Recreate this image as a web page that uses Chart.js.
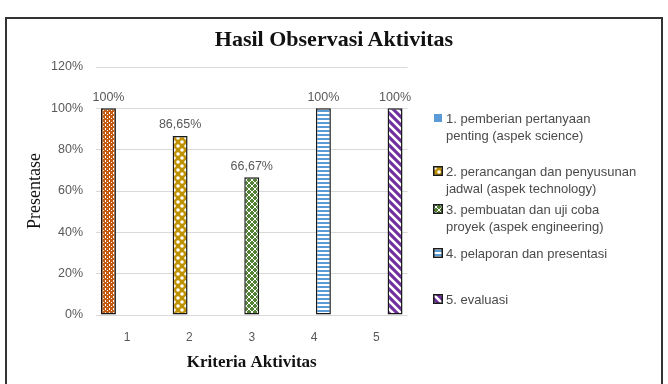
<!DOCTYPE html>
<html>
<head>
<meta charset="utf-8">
<script src="https://cdn.jsdelivr.net/npm/chart.js@4.4.1/dist/chart.umd.min.js"></script>
<style>
  body { margin: 0; background: #fff; }
  #wrap { position: relative; width: 668px; height: 384px; overflow: hidden; }
  #frame { position: absolute; left: 5px; top: 17px; width: 654px; height: 380px; border: 2px solid #333; }
  #title { position: absolute; left: 0; width: 668px; top: 26px; text-align: center;
    font: bold 22px "Liberation Serif", serif; color: #111; }
  #legend { position: absolute; left: 0; top: 0; }
  .item { position: absolute; left: 433px; font: 13px "Liberation Sans", sans-serif; color: #4a4a4a; line-height: 17px; }
  .item canvas { position: absolute; left: 0; top: 3px; }
  .item span { display: block; margin-left: 13px; white-space: nowrap; }
  #c { position: absolute; left: 0; top: 0; }
</style>
</head>
<body>
<div id="wrap">
  <div id="frame"></div>
  <canvas id="c" width="668" height="384"></canvas>
  <div id="title">Hasil Observasi Aktivitas</div>
  <div id="legend"></div>
</div>
<script>
'use strict';

const categories = ['1', '2', '3', '4', '5'];
const seriesNames = [
  ['1. pemberian pertanyaan', 'penting (aspek science)'],
  ['2. perancangan dan penyusunan', 'jadwal (aspek technology)'],
  ['3. pembuatan dan uji coba', 'proyek (aspek engineering)'],
  ['4. pelaporan dan presentasi'],
  ['5. evaluasi']
];
const values = [100, 86.65, 66.67, 100, 100];
const yTicks = [0, 20, 40, 60, 80, 100, 120];

const baseColors = ['#C55A11', '#BF9000', '#548235', '#5B9BD5', '#7030A0'];
const legendTops = [110, 163, 201, 245, 291];

const ctx = document.getElementById('c').getContext('2d');

function makePattern(target, i) {
  const size = [4, 8, 6, 4, 8][i];
  const tile = document.createElement('canvas');
  tile.width = tile.height = size;
  const g = tile.getContext('2d');
  g.fillStyle = baseColors[i];
  g.fillRect(0, 0, size, size);
  g.fillStyle = '#fff';
  g.strokeStyle = '#fff';
  if (i === 0) {
    g.fillRect(1, 0, 1, 2);
    g.fillRect(3, 2, 1, 1);
  } else if (i === 1) {
    g.beginPath(); g.arc(2, 2, 1.8, 0, Math.PI * 2); g.fill();
    g.beginPath(); g.arc(6, 6, 1.8, 0, Math.PI * 2); g.fill();
  } else if (i === 2) {
    g.lineWidth = 1;
    g.beginPath();
    g.moveTo(0, 0); g.lineTo(3, 3); g.lineTo(6, 0);
    g.moveTo(0, 6); g.lineTo(3, 3); g.lineTo(6, 6);
    g.stroke();
  } else if (i === 3) {
    g.fillRect(0, 0, size, 2);
  } else {
    g.lineWidth = 2.6;
    g.beginPath();
    g.moveTo(-2, -2); g.lineTo(10, 10);
    g.moveTo(-10, -2); g.lineTo(2, 10);
    g.moveTo(6, -2); g.lineTo(18, 10);
    g.stroke();
  }
  return target.createPattern(tile, 'repeat');
}

const datasets = values.map((v, i) => ({
  label: seriesNames[i].join(' '),
  data: categories.map((c, j) => (j === i ? v : null)),
  backgroundColor: makePattern(ctx, i),
  borderColor: '#1a1a1a',
  borderWidth: 1.5,
  borderSkipped: false,
  categoryPercentage: 0.75,
  barPercentage: 1.6
}));

function fmt(v) {
  return String(v).replace('.', ',') + '%';
}

const barLabels = {
  id: 'barLabels',
  afterDatasetsDraw(chart) {
    const c = chart.ctx;
    c.save();
    c.font = '12.5px "Liberation Sans", sans-serif';
    c.fillStyle = '#595959';
    c.textAlign = 'center';
    c.textBaseline = 'middle';
    chart.data.datasets.forEach((ds, i) => {
      chart.getDatasetMeta(i).data.forEach((bar, j) => {
        if (ds.data[j] == null) return;
        c.fillText(fmt(ds.data[j]), bar.x, bar.y - 11);
      });
    });
    c.restore();
  }
};

new Chart(ctx, {
  type: 'bar',
  data: { labels: categories, datasets: datasets },
  plugins: [barLabels],
  options: {
    responsive: false,
    animation: false,
    layout: { padding: { left: 24, right: 260.5, top: 67, bottom: 0 } },
    plugins: { legend: { display: false }, tooltip: { enabled: false } },
    scales: {
      x: {
        grid: { display: false, drawTicks: false },
        border: { display: false },
        ticks: { color: '#595959', padding: 15, font: { size: 12, family: 'Liberation Sans' } },
        title: { display: true, text: 'Kriteria Aktivitas', color: '#111',
          font: { size: 17, weight: 'bold', family: 'Liberation Serif' }, padding: { top: 4, bottom: 11 } },
        afterFit(scale) { scale.height = 69; }
      },
      y: {
        min: 0, max: 120,
        afterBuildTicks(scale) { scale.ticks = yTicks.map(v => ({ value: v })); },
        grid: { color: '#d9d9d9', drawTicks: false },
        border: { display: false },
        ticks: { color: '#595959', padding: 13, font: { size: 12.5, family: 'Liberation Sans' },
          callback: v => v + '%' },
        title: { display: true, text: 'Presentase', color: '#111',
          font: { size: 18, family: 'Liberation Serif' }, padding: { top: 0, bottom: 0 } },
        afterFit(scale) { scale.width = 72; }
      }
    }
  }
});

const legend = document.getElementById('legend');
seriesNames.forEach((lines, i) => {
  const item = document.createElement('div');
  item.className = 'item';
  item.style.top = legendTops[i] + 'px';
  const sw = document.createElement('canvas');
  sw.width = sw.height = 10;
  const g = sw.getContext('2d');
  if (i === 0) {
    g.fillStyle = baseColors[3];
    g.fillRect(1, 1, 8, 8);
  } else {
    g.fillStyle = makePattern(g, i);
    g.fillRect(0, 0, 10, 10);
    g.strokeStyle = '#1a1a1a';
    g.lineWidth = 1.5;
    g.strokeRect(0.75, 0.75, 8.5, 8.5);
  }
  item.appendChild(sw);
  lines.forEach(t => {
    const s = document.createElement('span');
    s.textContent = t;
    item.appendChild(s);
  });
  legend.appendChild(item);
});
</script>
</body>
</html>
